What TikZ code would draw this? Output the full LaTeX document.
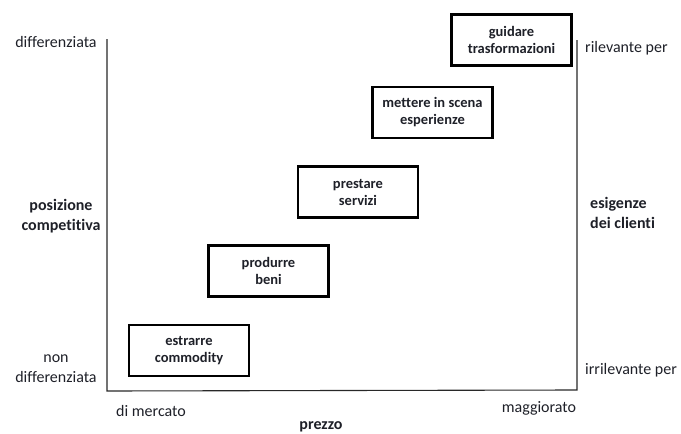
\documentclass[tikz,border=0pt]{standalone}
\usepackage{fontspec}
\setmainfont[Ligatures={NoCommon}]{Carlito}
\definecolor{ink}{RGB}{30,32,40}
\definecolor{axisgray}{RGB}{40,40,40}
\begin{document}
\begin{tikzpicture}[x=1pt,y=-1pt,
  stage/.style={draw=black, line width=2.6pt, minimum width=120pt, minimum height=51pt,
    inner sep=0pt, align=center, font=\fontsize{14.5}{17}\selectfont\bfseries, text=ink},
  lbl/.style={font=\fontsize{16}{20}\selectfont, text=ink, inner sep=0pt},
  blbl/.style={lbl, font=\fontsize{16}{20}\selectfont\bfseries},
  axisline/.style={draw=axisgray, line width=1.1pt}]
\useasboundingbox (0,0) rectangle (681,434);

% frame of the chart
\coordinate (tl) at (107,39);
\coordinate (bl) at (107,391);
\coordinate (br) at (577,390);
\coordinate (tr) at (577,40);
\draw[axisline] (tl) -- (bl) -- (br) -- (tr);

% stages of economic value
\node[stage] (s1) at (189,350.5) {estrarre\\commodity};
\node[stage] (s2) at (268.5,271) {produrre\\beni};
\node[stage] (s3) at (358,192) {prestare\\servizi};
\node[stage] (s4) at (432.5,112.5) {mettere in scena\\esperienze};
\node[stage] (s5) at (511.5,40) {guidare\\trasformazioni};

% left axis labels
\node[lbl] (ytop) at (56,42) {differenziata};
\node[lbl, align=center] (ybot) at (56,369) {non\\differenziata};
\node[blbl, align=center] (ytitle) at (61,216) {posizione\\competitiva};

% right axis labels
\node[lbl, anchor=west] (rtop) at (585,48) {rilevante per};
\node[lbl, anchor=west] (rbot) at (585,370) {irrilevante per};
\node[blbl, align=left, anchor=west] (rtitle) at (590,213) {esigenze\\dei clienti};

% bottom axis labels
\node[lbl] (xleft) at (151,411) {di mercato};
\node[lbl] (xright) at (539,408) {maggiorato};
\node[blbl] (xtitle) at (321,427) {prezzo};
\end{tikzpicture}
\end{document}
